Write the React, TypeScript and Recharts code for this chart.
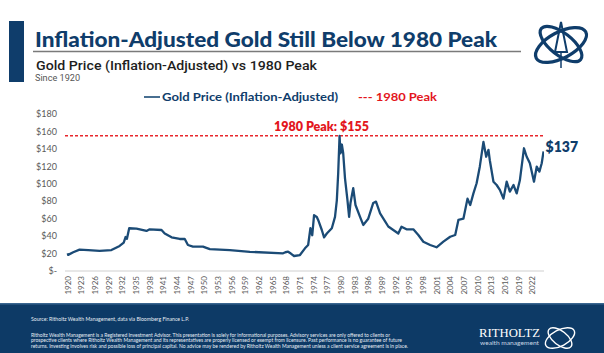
import { LineChart, Line, XAxis, YAxis, ReferenceLine, ReferenceDot } from 'recharts';

// gold price, inflation-adjusted
const years = [
  1920.0, 1920.1, 1921.2, 1922.6, 1924.5, 1927.0, 1929.6, 1931.4, 1932.3, 1932.7, 1933.0, 1933.5,
  1935.1, 1937.3, 1938.0, 1940.6, 1941.3, 1942.8, 1944.6, 1945.7, 1946.4, 1947.5, 1949.7, 1951.2,
  1955.6, 1960.0, 1967.3, 1967.8, 1968.4, 1969.0, 1969.7, 1971.0, 1972.1, 1972.8, 1973.3, 1973.7,
  1974.1, 1974.7, 1975.0, 1975.8, 1976.3, 1976.9, 1978.0, 1978.7, 1979.1, 1979.4, 1979.7, 1979.9,
  1980.2, 1980.5, 1980.9, 1981.4, 1981.8, 1982.1, 1982.7, 1983.2, 1984.2, 1984.9, 1986.0, 1987.1,
  1987.7, 1988.6, 1989.7, 1990.4, 1991.5, 1992.6, 1993.3, 1994.4, 1995.9, 1997.0, 1998.1, 1999.6,
  2001.0, 2002.5, 2004.0, 2005.1, 2005.8, 2006.9, 2007.8, 2008.4, 2009.1, 2009.8, 2010.5, 2011.3,
  2011.9, 2012.4, 2012.7, 2013.5, 2014.2, 2014.9, 2015.7, 2016.4, 2017.1, 2017.9, 2018.6, 2019.3,
  2020.2, 2020.8, 2021.5, 2022.4, 2023.0, 2023.6, 2024.1, 2024.5,
];
const goldPrice = [
  20.3, 18.5, 21.5, 24.5, 24, 23, 24, 28.7, 32.5, 39, 37, 49,
  48.5, 45.9, 47.8, 47, 43, 38.6, 36.7, 36.7, 29.8, 27.9, 27.9, 25,
  24, 22, 20.3, 21.5, 22.1, 20, 17.2, 18.3, 26, 29.8, 49, 41,
  64, 62, 58.5, 47, 38.6, 43, 49, 62, 81, 112, 155, 135,
  145, 135, 106, 83, 62, 78, 95, 75.7, 62, 52.8, 60, 78,
  79.5, 66, 57, 51, 47, 43, 50.8, 47.8, 47.8, 41.3, 33.6, 29.8,
  27.2, 33.6, 39.3, 41.3, 58.5, 60, 83, 75.7, 89, 100.6, 119.6, 148,
  131, 138.8, 127, 102.4, 98.6, 93, 83, 102.4, 91, 98.6, 89, 104,
  140.7, 131, 123.5, 102.4, 119.6, 114, 123.5, 137,
];
const xTicks = [
  1920, 1923, 1926, 1929, 1932, 1935, 1938, 1941, 1944, 1947, 1950, 1953, 1956, 1959, 1962, 1965, 1968,
  1971, 1974, 1977, 1980, 1983, 1986, 1989, 1992, 1995, 1998, 2001, 2004, 2007, 2010, 2013, 2016, 2019, 2022,
];
const yTicks = [0, 20, 40, 60, 80, 100, 120, 140, 160, 180];
const peak1980 = 155;

const data = years.map((year, i) => ({ year, price: goldPrice[i] }));
const last = data[data.length - 1];

const NAVY = '#0f3d6b';
const LINE = '#1b4b76';
const RED = '#e3161d';

function YearTick({ x, y, payload }: any) {
  return (
    <text
      x={x}
      y={y}
      transform={`rotate(-90, ${x}, ${y})`}
      textAnchor="end"
      dominantBaseline="central"
      fontSize={8}
      fill="#5a5a5a"
      fontFamily="Lato, sans-serif"
    >
      {payload.value}
    </text>
  );
}

function Decorations() {
  return (
    <svg width={604} height={353} style={{ position: 'absolute', left: 0, top: 0 }}>
      <rect x={9} y={21} width={15} height={61} fill={NAVY} />
      <text x={35} y={47} fontFamily="Lato, sans-serif" fontWeight={900} fontSize={20} fill={NAVY}
        textLength={462} lengthAdjust="spacingAndGlyphs">
        Inflation-Adjusted Gold Still Below 1980 Peak
      </text>
      <line x1={33} x2={521} y1={51.5} y2={51.5} stroke="#7a7a7a" strokeWidth={1.3} />
      <text x={36} y={69.5} fontFamily="Roboto, sans-serif" fontWeight={500} fontSize={13} fill="#1e1e1e"
        textLength={281} lengthAdjust="spacingAndGlyphs">
        Gold Price (Inflation-Adjusted) vs 1980 Peak
      </text>
      <text x={35} y={81} fontFamily="Roboto, sans-serif" fontSize={8.5} fill="#555" textLength={45} lengthAdjust="spacingAndGlyphs">
        Since 1920
      </text>

      {/* logo */}
      <g fill="none" stroke={NAVY} strokeWidth={3.2}>
        <ellipse cx={561} cy={45} rx={28} ry={13} transform="rotate(-28 561 45)" />
        <ellipse cx={561} cy={44} rx={25} ry={11} transform="rotate(38 561 44)" />
      </g>
      <path d="M561 22 L567 52 L555 52 Z" fill="none" stroke={NAVY} strokeWidth={2} />
      <path d="M561 52 L561 68" stroke={NAVY} strokeWidth={1.5} />

      {/* legend */}
      <line x1={144} x2={160} y1={97} y2={97} stroke={LINE} strokeWidth={1.6} />
      <text x={162} y={101} fontFamily="Lato, sans-serif" fontWeight={700} fontSize={12} fill={NAVY}
        textLength={176} lengthAdjust="spacingAndGlyphs">
        Gold Price (Inflation-Adjusted)
      </text>
      <text x={358} y={101} fontFamily="Lato, sans-serif" fontWeight={700} fontSize={12} fill={RED}
        textLength={79} lengthAdjust="spacingAndGlyphs">
        --- 1980 Peak
      </text>

      {/* footer */}
      <rect x={0} y={303} width={604} height={50} fill="#0d3a66" />
      <rect x={0} y={303} width={604} height={1.5} fill="#3a6690" />
      <g fontFamily="Lato, sans-serif" fontSize={5.2} fill="#e8eef5">
        <text x={31} y={320.5} textLength={158} lengthAdjust="spacingAndGlyphs">
          Source: Ritholtz Wealth Management, data via Bloomberg Finance L.P.
        </text>
        <text x={31} y={337} textLength={359} lengthAdjust="spacingAndGlyphs">
          Ritholtz Wealth Management is a Registered Investment Advisor. This presentation is solely for informational purposes. Advisory services are only offered to clients or
        </text>
        <text x={31} y={342.3} textLength={371} lengthAdjust="spacingAndGlyphs">
          prospective clients where Ritholtz Wealth Management and its representatives are properly licensed or exempt from licensure. Past performance is no guarantee of future
        </text>
        <text x={31} y={347.6} textLength={377} lengthAdjust="spacingAndGlyphs">
          returns. Investing involves risk and possible loss of principal capital. No advice may be rendered by Ritholtz Wealth Management unless a client service agreement is in place.
        </text>
      </g>
      <text x={479} y={337} fontFamily="'Liberation Serif', serif" fontSize={13.5} fill="#fff" textLength={61} lengthAdjust="spacingAndGlyphs">
        RITHOLTZ
      </text>
      <text x={480} y={345} fontFamily="Lato, sans-serif" fontSize={6.5} fill="#c9d6e4" textLength={59} lengthAdjust="spacingAndGlyphs">
        wealth management
      </text>
      <g fill="none" stroke="#fff" strokeWidth={1.4}>
        <ellipse cx={560} cy={338} rx={16} ry={8} transform="rotate(-28 560 338)" />
        <ellipse cx={560} cy={338} rx={14} ry={7} transform="rotate(38 560 338)" />
      </g>
    </svg>
  );
}

export default function App() {
  return (
    <div style={{ position: 'absolute', left: 0, top: 0, width: 604, height: 353, background: '#fff', overflow: 'hidden' }}>
      <Decorations />
      <div style={{ position: 'absolute', left: 0, top: 0 }}>
        <LineChart width={604} height={303} data={data} margin={{ top: 114, right: 60, bottom: 0, left: 15 }}>
          <XAxis
            dataKey="year"
            type="number"
            domain={[1919.4, 2024.6]}
            ticks={xTicks}
            interval={0}
            allowDataOverflow
            tickLine={false}
            tickSize={0}
            tickMargin={5}
            height={32}
            axisLine={{ stroke: '#cfcfcf' }}
            tick={<YearTick />}
          />
          <YAxis
            domain={[0, 180]}
            ticks={yTicks}
            width={50}
            axisLine={false}
            tickLine={false}
            tickFormatter={(v: number) => (v === 0 ? '$-' : `$${v}`)}
            tick={{ fontSize: 9, fill: '#5a5a5a', fontFamily: 'Lato, sans-serif' }}
          />
          <ReferenceLine
            y={peak1980}
            stroke="#e8262c"
            strokeDasharray="3 2"
            strokeWidth={1.5}
            label={{
              value: `1980 Peak: $${peak1980}`,
              position: 'top',
              offset: 5,
              dx: 17,
              fill: RED,
              fontSize: 12.5,
              fontWeight: 800,
              fontFamily: 'Lato, sans-serif',
            }}
          />
          <Line
            type="linear"
            dataKey="price"
            stroke={LINE}
            strokeWidth={2.3}
            strokeLinejoin="round"
            dot={false}
            isAnimationActive={false}
          />
          <ReferenceDot
            x={last.year}
            y={last.price}
            r={0}
            stroke="none"
            label={{
              value: `$${Math.round(last.price)}`,
              position: 'right',
              offset: 2,
              dy: -4,
              fill: NAVY,
              fontSize: 14,
              fontWeight: 800,
              fontFamily: 'Lato, sans-serif',
            }}
          />
        </LineChart>
      </div>
    </div>
  );
}
